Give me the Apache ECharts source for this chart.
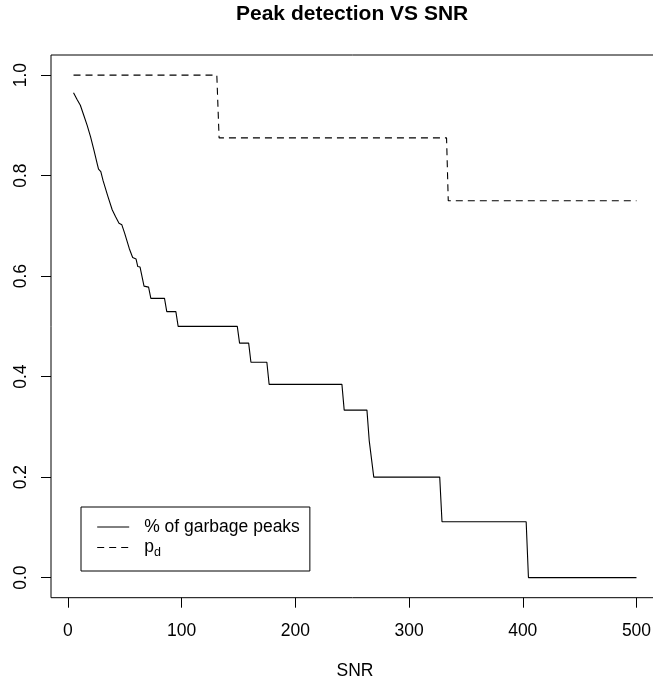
<!DOCTYPE html>
<html>
<head>
<meta charset="utf-8">
<title>Peak detection VS SNR</title>
<script src="https://cdn.jsdelivr.net/npm/echarts@6.0.0/dist/echarts.min.js"></script>
<style>
  html, body { margin: 0; padding: 0; background: #fff; }
  #chart { width: 653px; height: 682px; }
</style>
</head>
<body>
<div id="chart"></div>
<script>
// % of garbage peaks
const garbageSnr = [5, 8, 11, 14, 17, 20, 23, 26, 27, 29, 31, 35, 39, 42, 45, 47.5, 50, 54, 57, 60, 61.5, 63.5, 67, 71,
  73, 85, 87, 95, 97, 149, 151, 159, 161, 175, 177, 241, 243, 263, 265, 266.5, 269, 327, 329, 403, 405, 500]
const garbageVal = [0.965, 0.952, 0.940, 0.920, 0.900, 0.877, 0.850, 0.822, 0.813, 0.808, 0.790, 0.760, 0.732, 0.718,
  0.705, 0.702, 0.685, 0.655, 0.637, 0.634, 0.619, 0.618, 0.580, 0.578,
  0.5556, 0.5556, 0.5294, 0.5294, 0.5, 0.5, 0.4667, 0.4667, 0.4286, 0.4286, 0.3846, 0.3846, 0.3333, 0.3333,
  0.2727, 0.2727, 0.2, 0.2, 0.1111, 0.1111, 0, 0]

// p_d (detection probability)
const pdSnr = [5, 131, 133, 333, 334.5, 500]
const pdVal = [1, 1, 0.875, 0.875, 0.75, 0.75]

const xTicks = [0, 100, 200, 300, 400, 500]
const yTicks = [0, 0.2, 0.4, 0.6, 0.8, 1.0]

const font = "'Liberation Sans', Arial, Helvetica, sans-serif"

const chart = echarts.init(document.getElementById('chart'))

chart.setOption({
  animation: false,
  backgroundColor: '#fff',
  textStyle: { fontFamily: font },
  title: {
    text: 'Peak detection VS SNR',
    left: 236,
    top: 4,
    padding: 0,
    textStyle: { fontFamily: font, fontSize: 21, fontWeight: 'bold', color: '#000' }
  },
  legend: {
    left: 81,
    top: 507,
    orient: 'vertical',
    padding: [11, 10, 12, 15.7],
    itemWidth: 32,
    itemHeight: 20,
    itemGap: 0,
    borderColor: '#000',
    borderWidth: 1,
    borderRadius: 0,
    backgroundColor: '#fff',
    itemStyle: { opacity: 0 },
    lineStyle: { width: 1 },
    data: ['% of garbage peaks', 'pd'],
    formatter: function (name) {
      return name === 'pd' ? '{b|p}{s|d}' : '{b|' + name + '}'
    },
    textStyle: {
      fontFamily: font,
      color: '#000',
      padding: [0, 0, 0, 10],
      rich: {
        b: { fontFamily: font, fontSize: 17.5, lineHeight: 20, color: '#000' },
        s: { fontFamily: font, fontSize: 12.5, lineHeight: 10, padding: [10, 0, 0, 0], color: '#000' }
      }
    }
  },
  grid: {
    left: 51,
    top: 55,
    width: 608,
    height: 542.7,
    outerBoundsMode: 'none',
    containLabel: false,
    show: true,
    borderColor: '#000',
    borderWidth: 1,
    backgroundColor: 'transparent'
  },
  xAxis: {
    type: 'value',
    min: -14.8,
    max: 519.8,
    name: 'SNR',
    nameLocation: 'middle',
    nameGap: 64,
    nameTextStyle: { fontFamily: font, fontSize: 17.5, color: '#000' },
    axisLine: { show: false, onZero: false },
    splitLine: { show: false },
    axisTick: {
      show: true,
      inside: false,
      length: 10,
      customValues: xTicks,
      lineStyle: { color: '#000', width: 1 }
    },
    axisLabel: {
      customValues: xTicks,
      margin: 24,
      fontFamily: font,
      fontSize: 17.5,
      color: '#000'
    }
  },
  yAxis: {
    type: 'value',
    min: -0.04,
    max: 1.04,
    axisLine: { show: false, onZero: false },
    splitLine: { show: false },
    axisTick: {
      show: true,
      inside: false,
      length: 10,
      customValues: yTicks,
      lineStyle: { color: '#000', width: 1 }
    },
    axisLabel: {
      customValues: yTicks,
      rotate: 90,
      margin: 21,
      fontFamily: font,
      fontSize: 17.5,
      color: '#000',
      formatter: function (v) { return v.toFixed(1) }
    }
  },
  series: [
    {
      name: '% of garbage peaks',
      type: 'line',
      symbol: 'none',
      data: garbageSnr.map((x, i) => [x, garbageVal[i]]),
      lineStyle: { color: '#000', width: 1.1 },
      itemStyle: { color: '#000' }
    },
    {
      name: 'pd',
      type: 'line',
      symbol: 'none',
      data: pdSnr.map((x, i) => [x, pdVal[i]]),
      lineStyle: { color: '#000', width: 1.1, type: [7, 5] },
      itemStyle: { color: '#000' }
    }
  ]
})
</script>
</body>
</html>
